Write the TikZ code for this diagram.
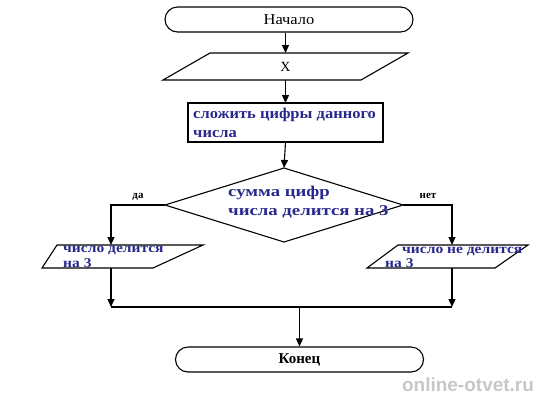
\documentclass[tikz,border=0pt]{standalone}
\usepackage{fontspec}
\setmainfont{Liberation Serif}
\newfontfamily\wmfont{Liberation Sans}
\newfontfamily\wideA[FakeStretch=1.1]{Liberation Serif}
\newfontfamily\wideB[FakeStretch=1.25]{Liberation Serif}
\newfontfamily\wideC[FakeStretch=1.15]{Liberation Serif}
\usetikzlibrary{arrows.meta,shapes.misc,calc}
\definecolor{txtblue}{RGB}{40,40,140}
\begin{document}
\begin{tikzpicture}[x=1pt,y=-1pt,
  line/.style={line width=1.1pt},
  arr/.style={line width=1.1pt, -{Triangle[length=8pt,width=7pt]}},
  term/.style={draw, line width=1.1pt, rounded rectangle, minimum width=248pt, minimum height=25pt, inner sep=0pt},
  blk/.style={inner sep=0pt, outer sep=0pt},
  bluetxt/.style={text=txtblue, font=\wideA\bfseries\fontsize{15}{18}\selectfont, inner sep=0pt, anchor=base west},
  dectxt/.style={text=txtblue, font=\wideB\bfseries\fontsize{15}{18}\selectfont, inner sep=0pt, anchor=base west},
  smallblue/.style={text=txtblue, font=\wideC\bfseries\fontsize{13.5}{16}\selectfont, inner sep=0pt, anchor=base west},
  lab/.style={font=\bfseries\fontsize{11}{13}\selectfont, inner sep=0pt, anchor=base}
]
\useasboundingbox (0,0) rectangle (545,400);

% start
\node[term, font=\wideA\fontsize{15}{17}\selectfont] (start) at (289,19.5) {Начало};

% input X
\node[blk, minimum width=245pt, minimum height=27pt, font=\fontsize{14}{16}\selectfont] (xin) at (285.5,66.5) {X};
\draw[line] ($(xin.north west)+(47,0)$) -- (xin.north east) -- ($(xin.south east)-(47,0)$) -- (xin.south west) -- cycle;

% process
\node[draw, line width=1.1pt, blk, minimum width=195pt, minimum height=39pt] (proc) at (285.5,122.5) {};
\node[bluetxt] (proc1) at (193,118) {сложить цифры данного};
\node[bluetxt] (proc2) at (193,137) {числа};

% decision
\node[blk, minimum width=238pt, minimum height=74pt] (dec) at (284,205) {};
\draw[line] (dec.north) -- (dec.east) -- (dec.south) -- (dec.west) -- cycle;
\node[dectxt] (dec1) at (228,196) {сумма цифр};
\node[dectxt] (dec2) at (228,215) {числа делится на 3};

\node[lab] (da) at (138,198) {да};
\node[lab] (net) at (428,198) {нет};

% yes output
\node[blk, minimum width=161pt, minimum height=23pt] (yes) at (122.5,256.5) {};
\draw[line] ($(yes.north west)+(15,0)$) -- (yes.north east) -- ($(yes.south east)-(50,0)$) -- (yes.south west) -- cycle;
\node[smallblue] (yes1) at (63,252) {число делится};
\node[smallblue] (yes2) at (63,267) {на 3};

% no output
\node[blk, minimum width=161pt, minimum height=23pt] (no) at (447.5,256.5) {};
\draw[line] ($(no.north west)+(31,0)$) -- (no.north east) -- ($(no.south east)-(33,0)$) -- (no.south west) -- cycle;
\node[smallblue] (no1) at (402,253) {число не делится};
\node[smallblue] (no2) at (385,267) {на 3};

% end
\node[term, font=\bfseries\fontsize{15}{17}\selectfont] (stop) at (299.5,359.5) {Конец};

% merge points
\coordinate (mL) at (111,307);
\coordinate (mR) at (452,307);
\coordinate (mC) at (299.5,307);

% connectors
\draw[arr] (start.south -| xin.north) -- (xin.north);
\draw[arr] (xin.south -| proc.north) -- (proc.north);
\draw[arr] (proc.south) -- (dec.north);
\draw[arr] (dec.west) -| ($(yes.north west)+(69,0)$);
\draw[arr] (dec.east) -| ($(no.north west)+(85,0)$);
\draw[arr] ($(yes.south west)+(69,0)$) -- (mL);
\draw[arr] ($(no.south west)+(85,0)$) -- (mR);
\draw[line] (mL) -- (mR);
\draw[arr] (mC) -- (stop.north);

% watermark
\node[font=\wmfont\bfseries\fontsize{19}{21}\selectfont, text=black!22, inner sep=0pt] (wm) at (468,385) {online-otvet.ru};
\end{tikzpicture}
\end{document}
